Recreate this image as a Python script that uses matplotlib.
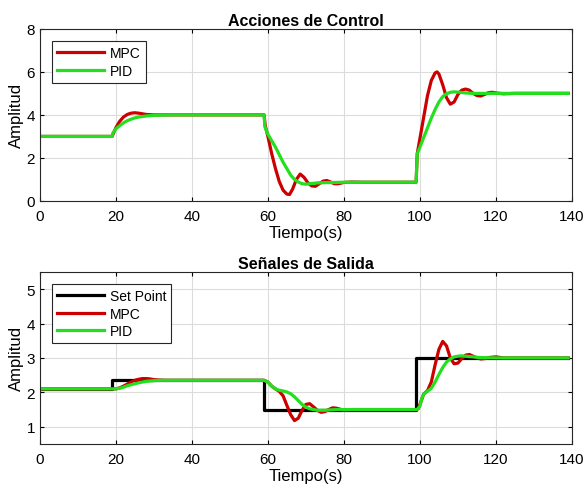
import matplotlib
matplotlib.use('Agg')
from matplotlib import pyplot as plt

plt.rcParams['font.family'] = ['Liberation Sans', 'DejaVu Sans']

# --- Acciones de Control ---
t_u_mpc = [0, 19, 19.5, 20, 21, 22, 23, 24, 25, 26, 27, 28, 30, 33, 40, 59, 59.3, 60, 61, 62, 63, 64, 65,
           65.7, 66.5, 67.5, 68.5, 69.5, 70.5, 71.5, 72.5, 73.5, 74.5, 75.5, 76.5, 77.5, 78.5, 80, 82, 85,
           99, 99.3, 100, 101, 102, 103, 104, 104.5, 105, 106, 107, 108, 109, 110, 111, 112, 113, 114, 115,
           116, 117, 118, 119, 120, 122, 125, 139]
u_mpc = [3, 3, 3.2, 3.4, 3.7, 3.9, 4.02, 4.08, 4.1, 4.08, 4.05, 4.02, 4.0, 4.0, 4.0, 4.0, 3.5, 3.0, 2.2, 1.5, 0.9, 0.5, 0.32,
         0.3, 0.55, 1.0, 1.25, 1.1, 0.85, 0.7, 0.68, 0.8, 0.92, 0.95, 0.88, 0.8, 0.8, 0.86, 0.88, 0.87,
         0.87, 2.2, 2.9, 3.9, 4.9, 5.6, 5.95, 6.0, 5.9, 5.4, 4.8, 4.5, 4.6, 4.95, 5.15, 5.2, 5.15, 5.0, 4.9,
         4.88, 4.95, 5.03, 5.05, 5.02, 4.98, 5.0, 5.0]

t_u_pid = [0, 19, 19.2, 20, 21, 22, 23, 24, 25, 26, 28, 30, 32, 35, 40, 59, 59.2, 60, 61, 62, 63, 64, 65, 66,
           67, 68, 69, 70, 71, 72, 73, 75, 80, 90, 99, 99.3, 100, 101, 102, 103, 104, 105, 106, 107, 108,
           109, 110, 111, 112, 114, 118, 125, 139]
u_pid = [3, 3, 3.15, 3.35, 3.5, 3.63, 3.73, 3.8, 3.86, 3.9, 3.95, 3.98, 3.99, 4.0, 4.0, 4.0, 3.45, 3.1, 2.8, 2.5, 2.15, 1.8, 1.5, 1.2,
         1.0, 0.88, 0.8, 0.78, 0.8, 0.82, 0.84, 0.85, 0.87, 0.87, 0.87, 2.2, 2.5, 2.95, 3.4, 3.85, 4.25, 4.6, 4.85, 4.98, 5.05,
         5.07, 5.06, 5.04, 5.02, 5.0, 5.0, 5.0, 5.0]

# --- Señales de Salida ---
t_sp = [0, 19, 19, 59, 59, 99, 99, 139]
y_sp = [2.1, 2.1, 2.37, 2.37, 1.5, 1.5, 3.01, 3.01]

t_y_mpc = [0, 20, 21, 22, 23, 24, 25, 26, 27, 28, 29, 30, 31, 33, 40, 59, 60, 61, 62, 63, 64, 65, 66, 67,
           68, 69, 70, 71, 72, 73, 74, 75, 76, 77, 78, 80, 82, 85, 99, 99.5, 100, 101, 102, 103, 104, 105,
           106, 107, 108, 109, 110, 111, 112, 113, 114, 115, 116, 117, 118, 120, 122, 125, 139]
y_mpc = [2.1, 2.1, 2.13, 2.18, 2.24, 2.3, 2.35, 2.38, 2.4, 2.4, 2.39, 2.37, 2.36, 2.35, 2.35, 2.35, 2.3, 2.18, 2.1, 2.03, 1.9, 1.62, 1.35, 1.18,
         1.25, 1.48, 1.65, 1.67, 1.58, 1.48, 1.42, 1.44, 1.5, 1.55, 1.54, 1.48, 1.5, 1.5, 1.5, 1.52, 1.65, 1.95, 2.05, 2.3, 2.8, 3.25,
         3.48, 3.35, 3.0, 2.83, 2.85, 2.98, 3.08, 3.1, 3.05, 3.0, 2.97, 2.98, 3.01, 3.03, 3.0, 3.0, 3.0]

t_y_pid = [0, 20, 21, 22, 23, 24, 25, 26, 27, 28, 29, 30, 32, 35, 40, 59, 60, 61, 62, 63, 64, 65, 66, 67,
           68, 69, 70, 71, 72, 73, 75, 78, 85, 99, 99.5, 100, 100.5, 101, 102, 103, 104, 105, 106, 107, 108,
           109, 110, 111, 112, 114, 116, 120, 139]
y_pid = [2.1, 2.1, 2.12, 2.15, 2.19, 2.22, 2.25, 2.28, 2.3, 2.32, 2.33, 2.34, 2.35, 2.35, 2.35, 2.35, 2.3, 2.18, 2.1, 2.06, 2.04, 2.01, 1.96, 1.87,
         1.76, 1.65, 1.57, 1.52, 1.5, 1.48, 1.48, 1.5, 1.5, 1.5, 1.52, 1.6, 1.82, 1.95, 2.03, 2.12, 2.3, 2.52, 2.72, 2.88, 2.97,
         3.03, 3.05, 3.06, 3.05, 3.03, 3.01, 3.0, 3.0]

red = '#cc0000'
green = '#22e01e'


def style(ax):
    ax.grid(True, color='#dcdcdc', linewidth=0.8)
    ax.set_axisbelow(True)
    ax.tick_params(direction='in', length=3, labelsize=11, top=True, right=True)
    ax.tick_params(axis='x', pad=6)
    for s in ax.spines.values():
        s.set_linewidth(0.8)
        s.set_color('#262626')
    ax.set_xlim(0, 140)
    ax.set_xticks(range(0, 141, 20))
    ax.set_xlabel('Tiempo(s)', fontsize=12, labelpad=1)
    ax.set_ylabel('Amplitud', fontsize=12, labelpad=2)


def add_legend(ax):
    leg = ax.legend(loc='upper left', fontsize=10, fancybox=False, edgecolor='#262626',
                    handlelength=3.4, handletextpad=0.4, labelspacing=0.25,
                    borderaxespad=0.9, borderpad=0.35, framealpha=1)
    leg.get_frame().set_linewidth(0.8)


fig = plt.figure(figsize=(5.86, 4.89), dpi=100)

ax1 = fig.add_axes([0.068, 0.587, 0.908, 0.352])
ax1.plot(t_u_mpc, u_mpc, color=red, lw=2.3, label='MPC')
ax1.plot(t_u_pid, u_pid, color=green, lw=2.3, label='PID')
ax1.set_ylim(0, 8)
ax1.set_yticks([0, 2, 4, 6, 8])
style(ax1)
ax1.set_title('Acciones de Control', fontsize=11.5, fontweight='bold', pad=3)
add_legend(ax1)

ax2 = fig.add_axes([0.068, 0.090, 0.908, 0.352])
ax2.plot(t_sp, y_sp, color='black', lw=2.3, label='Set Point')
ax2.plot(t_y_mpc, y_mpc, color=red, lw=2.3, label='MPC')
ax2.plot(t_y_pid, y_pid, color=green, lw=2.3, label='PID')
ax2.set_ylim(0.5, 5.5)
ax2.set_yticks([1, 2, 3, 4, 5])
style(ax2)
ax2.set_title('Señales de Salida', fontsize=11.5, fontweight='bold', pad=3)
add_legend(ax2)

plt.savefig('out.png', dpi=100)
